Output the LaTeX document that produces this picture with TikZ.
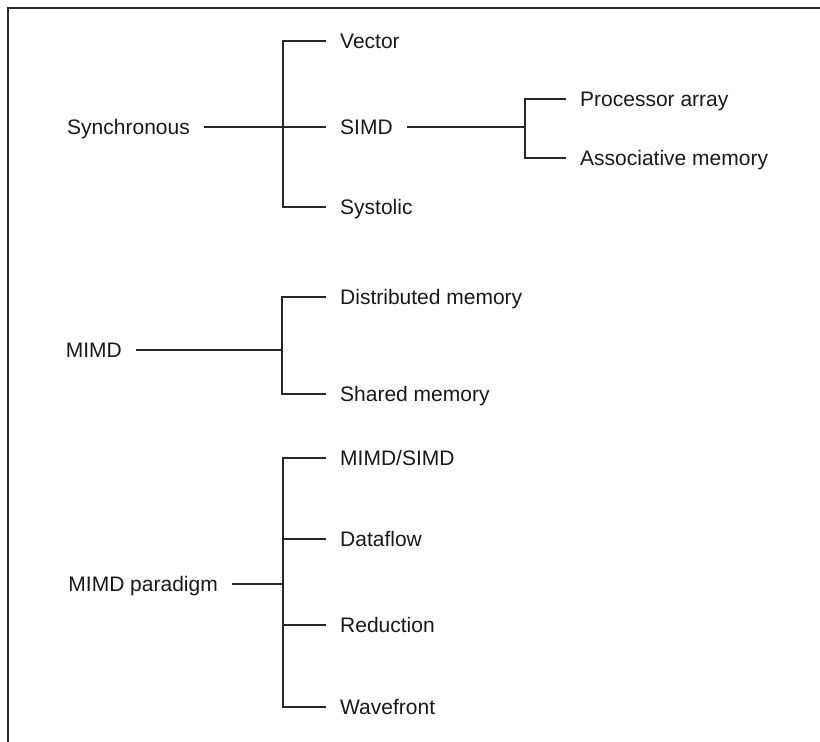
\documentclass[tikz,border=0pt]{standalone}
\usepackage{fontspec}
\setmainfont{Liberation Sans}
\begin{document}
\begin{tikzpicture}[x=1pt,y=-1pt,
  lbl/.style={font=\fontsize{21}{25}\selectfont, inner xsep=14pt, inner ysep=0pt,
              text height=15pt, text depth=0pt, text=black!90},
  leaf/.style={lbl, anchor=west},
  root/.style={lbl, anchor=east},
  conn/.style={draw=black!85, line width=2.2pt}]
\useasboundingbox (0,0) rectangle (820,742);
% frame
\coordinate (ftr) at (820,8);
\coordinate (ftl) at (8,8);
\coordinate (fbl) at (8,742);
\draw[conn, line width=2.2pt] (ftr) -- (ftl) -- (fbl);

% Synchronous
\node[root] (syn) at (204,127) {Synchronous};
\node[leaf] (vec) at (326,41) {Vector};
\node[leaf] (simd) at (326,127) {SIMD};
\node[leaf] (sys) at (326,207) {Systolic};
\coordinate (j1) at (283,127);
\draw[conn] (vec.west) -| (j1) |- (sys.west);
\draw[conn] (syn.east) -- (simd.west);

% SIMD branch
\node[leaf] (pa) at (566,99) {Processor array};
\node[leaf] (am) at (566,158) {Associative memory};
\coordinate (j2) at (525,127);
\draw[conn] (pa.west) -| (j2) |- (am.west);
\draw[conn] (simd.east) -- (j2);

% MIMD
\node[root] (mimd) at (136,350) {MIMD};
\node[leaf] (dm) at (326,297) {Distributed memory};
\node[leaf] (sm) at (326,394) {Shared memory};
\coordinate (j3) at (282,350);
\draw[conn] (dm.west) -| (j3) |- (sm.west);
\draw[conn] (mimd.east) -- (j3);

% MIMD paradigm
\node[root] (par) at (232,584) {MIMD paradigm};
\node[leaf] (ms) at (326,458) {MIMD/SIMD};
\node[leaf] (df) at (326,539) {Dataflow};
\node[leaf] (rd) at (326,625) {Reduction};
\node[leaf] (wf) at (326,707) {Wavefront};
\coordinate (j4) at (283,584);
\draw[conn] (ms.west) -| (j4) |- (wf.west);
\draw[conn] (par.east) -- (j4);
\draw[conn] (df.west) -- (df.west -| j4);
\draw[conn] (rd.west) -- (rd.west -| j4);
\end{tikzpicture}
\end{document}
